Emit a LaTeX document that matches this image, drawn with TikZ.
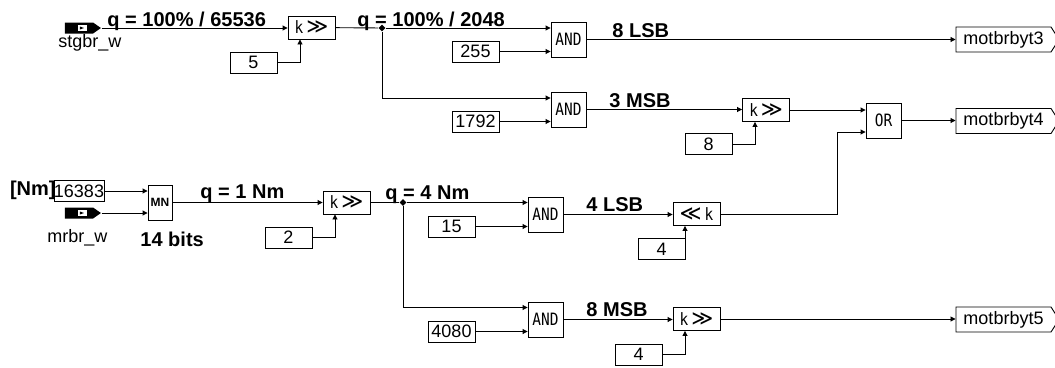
\documentclass[tikz,border=0pt]{standalone}
\usepackage{fontspec}
\setmainfont{Liberation Sans}
\newfontfamily\opfont[FakeStretch=0.85]{DejaVu Sans Mono}
\newfontfamily\symfont{DejaVu Sans}
\usetikzlibrary{arrows.meta,shapes.symbols,shapes.geometric}
\begin{document}
\begin{tikzpicture}[x=1pt,y=-1pt,line width=0.9pt,
  >={Triangle[length=5pt,width=5pt]},
  constbox/.style={draw,minimum width=47pt,minimum height=21pt,inner sep=0pt,font=\fontsize{18}{18}\selectfont},
  opbox/.style={draw,minimum width=35pt,minimum height=35pt,inner sep=0pt,font=\opfont\fontsize{17}{17}\selectfont},
  shiftbox/.style={draw,minimum width=47pt,minimum height=23pt,inner sep=0pt,font=\opfont\fontsize{17}{17}\selectfont},
  inport/.style={signal,fill=black,minimum width=36pt,minimum height=11pt,signal pointer angle=70,inner sep=0pt,
    path picture={
      \fill[white] ([xshift=-5pt,yshift=3pt]path picture bounding box.center) rectangle ++(9,6);
      \fill[black] ([xshift=-3pt,yshift=1.5pt]path picture bounding box.center) -- ([xshift=1pt]path picture bounding box.center)
        -- ([xshift=-3pt,yshift=-1.5pt]path picture bounding box.center) -- cycle;}},
  outport/.style={signal,draw,fill=white,minimum width=103pt,minimum height=25pt,signal pointer angle=115,inner sep=0pt,font=\fontsize{18}{18}\selectfont},
  junct/.style={diamond,fill=black,inner sep=0pt,minimum size=7pt},
  qlbl/.style={font=\bfseries\fontsize{20}{20}\selectfont,inner sep=0pt,anchor=base west},
  portlbl/.style={font=\fontsize{18}{18}\selectfont,inner sep=0pt,anchor=base west}]
\useasboundingbox (0,0) rectangle (1055,367);

% inputs
\node (stgbr) [inport] at (79,28) {};
\node (stgbrlbl) [portlbl] at (58,47) {stgbr\_w};
\node (mrbr) [inport] at (79,213) {};
\node (mrbrlbl) [portlbl] at (47,242) {mrbr\_w};

% constants
\foreach \n/\v/\x/\y in {c5/5/253.5/62.5,c255/255/475.5/51.5,c1792/1792/475.5/121.5,c8/8/708.5/144,
  c16383/16383/79/191,c2/2/288.5/237.5,c15/15/451.5/226.5,c4a/4/661.5/249,c4080/4080/451.5/331.5,c4b/4/638.5/354.5}{
\node (\n) [constbox] at (\x,\y) {\v};
}

% operators
\node (shr1) [shiftbox] at (311.5,27.5) {k\,{\symfont\fontsize{21}{21}\selectfont≫}};
\node (and1) [opbox] at (568.5,39.5) {AND};
\node (and2) [opbox] at (568.5,109.5) {AND};
\node (shr2) [shiftbox] at (766,110) {k\,{\symfont\fontsize{21}{21}\selectfont≫}};
\node (or) [opbox] at (883.5,120.5) {OR};
\node (mn) [opbox,minimum width=24pt,font=\bfseries\fontsize{12}{12}\selectfont] at (160,202.5) {MN};
\node (shr3) [shiftbox] at (346.5,202.5) {k\,{\symfont\fontsize{21}{21}\selectfont≫}};
\node (and3) [opbox] at (545.5,214.5) {AND};
\node (shl) [shiftbox] at (696.5,214) {{\symfont\fontsize{21}{21}\selectfont≪}\,k};
\node (and4) [opbox] at (545.5,319.5) {AND};
\node (shr4) [shiftbox] at (696.5,319) {k\,{\symfont\fontsize{21}{21}\selectfont≫}};
\node (j1) [junct] at (382,28) {};
\node (j2) [junct] at (403,202.5) {};
\coordinate (bend) at (837,132);

% outputs
\foreach \n/\y in {3/39.5,4/121,5/319.5}{
\node (out\n) [outport] at (1003.5,\y) {motbrbyt\n};
}

% labels
\node (q1) [qlbl] at (107,26) {q = 100\% / 65536};
\node (q2) [qlbl] at (357,26) {q = 100\% / 2048};
\node (lsb8) [qlbl] at (612,37) {8 LSB};
\node (msb3) [qlbl] at (609,107) {3 MSB};
\node (unit) [qlbl,anchor=base east] at (56,195) {[Nm]};
\node (bits) [qlbl] at (140,246) {14 bits};
\node (q3) [qlbl] at (200,198) {q = 1 Nm};
\node (q4) [qlbl] at (385,199) {q = 4 Nm};
\node (lsb4) [qlbl] at (586,211) {4 LSB};
\node (msb8) [qlbl] at (586,316) {8 MSB};

% wires
\draw [->] (stgbr.east) -- (stgbr.east -| shr1.west);
\draw [->] (c5) -| ([xshift=-11.5pt]shr1.south);
\draw (shr1) -- (j1);
\draw [->] (j1) -- (j1 -| and1.west);
\draw [->] (c255) -- (c255 -| and1.west);
\draw [->] (j1) |- ([yshift=11.5pt]and2.west);
\draw [->] (c1792) -- (c1792 -| and2.west);
\draw [->] (and1) -- (and1 -| out3.west);
\draw [->] (and2) -- (and2 -| shr2.west);
\draw [->] (c8) -| ([xshift=-11pt]shr2.south);
\draw [->] (shr2) -- (shr2 -| or.west);
\draw [->] (or) -- (or -| out4.west);
\draw [->] (c16383) -- (c16383 -| mn.west);
\draw [->] (mrbr.east) -- (mrbr.east -| mn.west);
\draw [->] (mn) -- (mn -| shr3.west);
\draw [->] (c2) -| ([xshift=-11.5pt]shr3.south);
\draw (shr3) -- (j2);
\draw [->] (j2) -- (j2 -| and3.west);
\draw [->] (c15) -- (c15 -| and3.west);
\draw [->] (j2) |- ([yshift=12pt]and4.west);
\draw [->] (c4080) -- (c4080 -| and4.west);
\draw [->] (and3) -- (and3 -| shl.west);
\draw [->] (c4a) -| ([xshift=-11.5pt]shl.south);
\draw [->] (shl) -| (bend) -- (bend -| or.west);
\draw [->] (and4) -- (and4 -| shr4.west);
\draw [->] (c4b) -| ([xshift=-11.5pt]shr4.south);
\draw [->] (shr4) -- (shr4 -| out5.west);
\end{tikzpicture}
\end{document}
